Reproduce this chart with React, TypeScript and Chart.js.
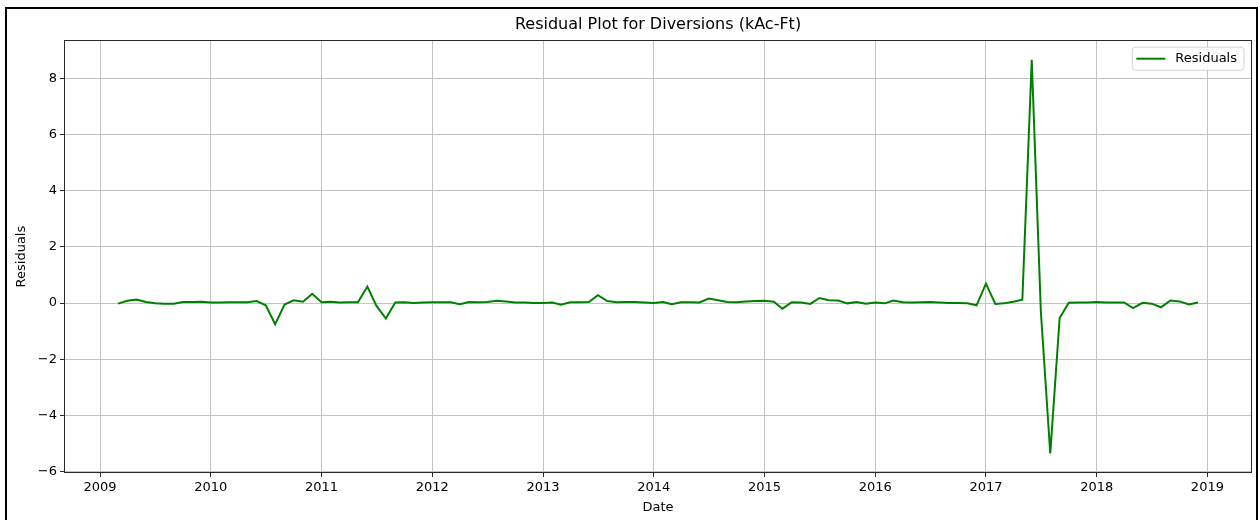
import { useEffect, useRef } from 'react';
import { Chart, registerables } from 'chart.js';

Chart.register(...registerables);

// Monthly residuals, first month is March 2009
const startYear = 2009;
const startMonth = 3;

const residuals2009 = [-0.02, 0.08, 0.13, 0.04, -0.01, -0.02, -0.02, 0.04, 0.04, 0.05];
const residuals2010 = [0.02, 0.02, 0.03, 0.03, 0.03, 0.07, -0.08, -0.75, -0.05, 0.1, 0.05, 0.33];
const residuals2011 = [0.03, 0.05, 0.02, 0.03, 0.03, 0.59, -0.1, -0.55, 0.02, 0.03, 0.0, 0.02];
const residuals2012 = [0.03, 0.03, 0.03, -0.04, 0.04, 0.03, 0.04, 0.08, 0.06, 0.02, 0.02, 0.0];
const residuals2013 = [0.0, 0.02, -0.06, 0.03, 0.03, 0.04, 0.28, 0.07, 0.03, 0.04, 0.04, 0.02];
const residuals2014 = [0.0, 0.04, -0.04, 0.03, 0.03, 0.02, 0.16, 0.1, 0.04, 0.03, 0.06, 0.07];
const residuals2015 = [0.08, 0.05, -0.2, 0.03, 0.02, -0.03, 0.18, 0.1, 0.09, -0.01, 0.04, -0.02];
const residuals2016 = [0.02, -0.01, 0.09, 0.03, 0.02, 0.03, 0.04, 0.02, 0.0, 0.0, -0.01, -0.08];
const residuals2017 = [0.69, -0.03, -0.01, 0.05, 0.12, 8.66, -0.3, -5.35, -0.53, 0.01, 0.02, 0.02];
const residuals2018 = [0.04, 0.02, 0.02, 0.02, -0.18, 0.01, -0.02, -0.15, 0.09, 0.06, -0.05, 0.02];

const xTickYears = [2009, 2010, 2011, 2012, 2013, 2014, 2015, 2016, 2017, 2018, 2019];
const yTickValues = [-6, -4, -2, 0, 2, 4, 6, 8];

const seriesLabel = 'Residuals';
const chartTitle = 'Residual Plot for Diversions (kAc-Ft)';
const xAxisLabel = 'Date';
const yAxisLabel = 'Residuals';

const FONT = "'DejaVu Sans', sans-serif";
const LINE_GREEN = '#008000';

// Fractional year of the first day of a month, by day count
function yearFraction(year: number, month: number): number {
  const start = Date.UTC(year, 0, 1);
  const end = Date.UTC(year + 1, 0, 1);
  const at = Date.UTC(year, month - 1, 1);
  return year + (at - start) / (end - start);
}

const monthlyResiduals = [
  ...residuals2009,
  ...residuals2010,
  ...residuals2011,
  ...residuals2012,
  ...residuals2013,
  ...residuals2014,
  ...residuals2015,
  ...residuals2016,
  ...residuals2017,
  ...residuals2018,
];

const points = monthlyResiduals.map((v, i) => {
  const idx = startMonth - 1 + i;
  const year = startYear + Math.floor(idx / 12);
  const month = (idx % 12) + 1;
  return { x: yearFraction(year, month), y: v };
});

// 5% data margins on both axes
const xs = points.map((p) => p.x);
const ys = points.map((p) => p.y);
const xLo = Math.min(...xs);
const xHi = Math.max(...xs);
const yLo = Math.min(...ys);
const yHi = Math.max(...ys);
const xMin = xLo - 0.05 * (xHi - xLo);
const xMax = xHi + 0.05 * (xHi - xLo);
const yMin = yLo - 0.05 * (yHi - yLo);
const yMax = yHi + 0.05 * (yHi - yLo);

const formatY = (v: number) => (v < 0 ? '\u2212' + Math.abs(v) : String(v));

// Box around the plotting area
const framePlugin = {
  id: 'axesFrame',
  afterDatasetsDraw(chart: any) {
    const { ctx, chartArea } = chart;
    const l = Math.round(chartArea.left) + 0.5;
    const t = Math.round(chartArea.top) + 0.5;
    const r = Math.round(chartArea.right) - 0.5;
    const b = Math.round(chartArea.bottom) - 0.5;
    ctx.save();
    ctx.strokeStyle = '#2a2a2a';
    ctx.lineWidth = 1;
    ctx.strokeRect(l, t, r - l, b - t);
    ctx.restore();
  },
};

// Legend box in the upper right corner of the plotting area
const boxLegendPlugin = {
  id: 'boxLegend',
  afterDraw(chart: any) {
    const { ctx, chartArea } = chart;
    const ds = chart.data.datasets[0];
    ctx.save();
    ctx.font = `13px ${FONT}`;
    const textW = ctx.measureText(ds.label).width;
    const padL = 4;
    const handle = 29;
    const gap = 10;
    const padR = 7;
    const w = padL + handle + gap + textW + padR;
    const h = 23;
    const right = chartArea.right - 8;
    const top = chartArea.top + 7;
    const left = right - w;
    const rad = 3;
    ctx.beginPath();
    ctx.moveTo(left + rad, top);
    ctx.lineTo(right - rad, top);
    ctx.quadraticCurveTo(right, top, right, top + rad);
    ctx.lineTo(right, top + h - rad);
    ctx.quadraticCurveTo(right, top + h, right - rad, top + h);
    ctx.lineTo(left + rad, top + h);
    ctx.quadraticCurveTo(left, top + h, left, top + h - rad);
    ctx.lineTo(left, top + rad);
    ctx.quadraticCurveTo(left, top, left + rad, top);
    ctx.closePath();
    ctx.fillStyle = 'rgba(255,255,255,0.85)';
    ctx.fill();
    ctx.strokeStyle = '#d4d4d4';
    ctx.lineWidth = 1;
    ctx.stroke();
    const cy = top + h / 2;
    ctx.beginPath();
    ctx.moveTo(left + padL, cy);
    ctx.lineTo(left + padL + handle, cy);
    ctx.strokeStyle = ds.borderColor;
    ctx.lineWidth = 2;
    ctx.stroke();
    ctx.fillStyle = '#000';
    ctx.textAlign = 'left';
    ctx.textBaseline = 'middle';
    ctx.fillText(ds.label, left + padL + handle + gap, cy);
    ctx.restore();
  },
};

export default function App() {
  const canvasRef = useRef<HTMLCanvasElement | null>(null);

  useEffect(() => {
    const canvas = canvasRef.current;
    if (!canvas) return;
    const tickFont = { family: FONT, size: 13 };
    const chart = new Chart(canvas, {
      type: 'line',
      data: {
        datasets: [
          {
            label: seriesLabel,
            data: points,
            borderColor: LINE_GREEN,
            backgroundColor: LINE_GREEN,
            borderWidth: 2,
            pointRadius: 0,
            tension: 0,
            fill: false,
          },
        ],
      },
      options: {
        animation: false,
        responsive: false,
        devicePixelRatio: 1,
        layout: { padding: { left: 0, right: 8, top: 0, bottom: 0 } },
        plugins: {
          legend: { display: false },
          tooltip: { enabled: false },
          title: {
            display: true,
            fullSize: false,
            text: chartTitle,
            color: '#000',
            font: { family: FONT, size: 16, weight: 'normal' },
            padding: { top: 15, bottom: 6 },
          },
        },
        scales: {
          x: {
            type: 'linear',
            min: xMin,
            max: xMax,
            afterBuildTicks: (s: any) => {
              s.ticks = xTickYears.map((v) => ({ value: v }));
            },
            afterFit: (s: any) => {
              s.height = 47;
            },
            border: { display: false },
            grid: {
              color: '#c4c4c4',
              lineWidth: 1,
              tickColor: '#2a2a2a',
              tickLength: 4,
              drawTicks: true,
            },
            ticks: {
              color: '#000',
              font: tickFont,
              padding: 3,
              maxRotation: 0,
              autoSkip: false,
              callback: (v: any) => String(v),
            },
            title: {
              display: true,
              text: xAxisLabel,
              color: '#000',
              font: tickFont,
              padding: { top: 0, bottom: 5 },
            },
          },
          y: {
            type: 'linear',
            min: yMin,
            max: yMax,
            afterBuildTicks: (s: any) => {
              s.ticks = yTickValues.map((v) => ({ value: v }));
            },
            afterFit: (s: any) => {
              s.width = 64;
            },
            border: { display: false },
            grid: {
              color: '#c4c4c4',
              lineWidth: 1,
              tickColor: '#2a2a2a',
              tickLength: 4,
              drawTicks: true,
            },
            ticks: {
              color: '#000',
              font: tickFont,
              padding: 3,
              autoSkip: false,
              callback: (v: any) => formatY(Number(v)),
            },
            title: {
              display: true,
              text: yAxisLabel,
              color: '#000',
              font: tickFont,
              padding: { top: 14, bottom: 0 },
            },
          },
        },
      },
      plugins: [framePlugin, boxLegendPlugin],
    } as any);
    return () => chart.destroy();
  }, []);

  return (
    <div
      style={{
        position: 'fixed',
        left: 0,
        top: 0,
        width: 1260,
        height: 520,
        background: '#fff',
        overflow: 'hidden',
      }}
    >
      <canvas ref={canvasRef} width={1260} height={520} style={{ display: 'block' }} />
      <div
        style={{
          position: 'absolute',
          left: 5,
          top: 7,
          width: 1253,
          height: 600,
          boxSizing: 'border-box',
          border: '2px solid #000',
          pointerEvents: 'none',
        }}
      />
    </div>
  );
}
